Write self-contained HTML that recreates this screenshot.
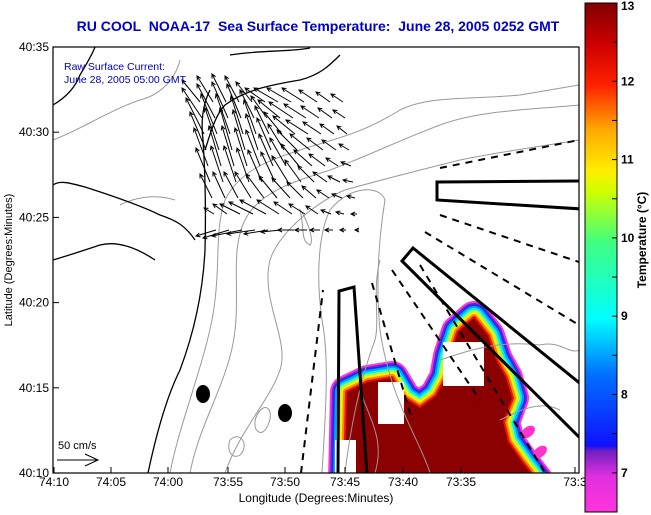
<!DOCTYPE html>
<html><head><meta charset="utf-8"><style>
html,body{margin:0;padding:0;background:#fff;}
svg{display:block;font-family:"Liberation Sans",sans-serif;}
</style></head><body>
<svg width="651" height="515" viewBox="0 0 651 515">
<defs>
<linearGradient id="cb" x1="0" y1="1" x2="0" y2="0">
<stop offset="0" stop-color="#ff33dd"/>
<stop offset="0.07" stop-color="#e030e0"/>
<stop offset="0.12" stop-color="#7020c0"/>
<stop offset="0.13" stop-color="#1010ff"/>
<stop offset="0.27" stop-color="#0070ff"/>
<stop offset="0.38" stop-color="#00ffff"/>
<stop offset="0.53" stop-color="#40ff80"/>
<stop offset="0.63" stop-color="#d0ff00"/>
<stop offset="0.67" stop-color="#ffee00"/>
<stop offset="0.75" stop-color="#ffaa00"/>
<stop offset="0.84" stop-color="#ff2000"/>
<stop offset="0.92" stop-color="#cc0000"/>
<stop offset="1" stop-color="#800000"/>
</linearGradient>
<clipPath id="plot"><rect x="53" y="47" width="526" height="426"/></clipPath>
</defs>
<text x="318" y="31" text-anchor="middle" font-size="14" font-weight="bold" fill="#0000cc" xml:space="preserve">RU COOL  NOAA-17  Sea Surface Temperature:  June 28, 2005 0252 GMT</text>

<g clip-path="url(#plot)">
<g stroke-linejoin="round" id="sst"></g>
<g fill="none" stroke="#999" stroke-width="1">
<path d="M170,473 C180,420 210,350 215,300 C220,260 215,230 225,200 C240,170 270,160 300,150 C330,140 360,135 400,110 C430,95 470,100 520,95 L579,85"/>
<path d="M190,473 C200,420 230,380 235,330 C240,290 230,250 245,220 C260,190 300,180 330,170 C370,155 400,140 440,125 C480,110 530,110 579,105"/>
<path d="M225,473 C240,430 270,400 280,370 C290,340 260,300 270,260 C280,230 320,200 345,190 C380,180 420,170 460,160 C510,150 550,145 579,140"/>
<path d="M322,473 C325,420 330,360 322,320 C315,270 320,230 330,210 C350,185 380,185 385,200 C380,230 375,280 380,330 C390,400 420,440 430,473"/>
<path d="M345,473 C350,430 360,380 375,340 C380,320 372,290 380,260"/>
<path d="M300,210 C305,230 300,240 310,245 C315,240 305,215 300,210 Z"/>
<path d="M440,360 C470,350 500,340 540,345 C560,340 570,355 579,350"/>
<path d="M500,420 C520,410 540,400 560,410"/>
<path d="M53,140 C80,130 110,110 140,100 C160,95 175,80 180,60"/>
<path d="M120,205 C140,195 160,195 175,200"/>
<path d="M257,415 C265,400 275,410 268,425 C262,440 250,430 257,415"/>
<path d="M230,440 C240,430 250,445 240,455 C232,460 226,450 230,440"/>
<path d="M375,473 C385,440 370,420 360,390"/>
</g>
<g fill="none" stroke="#000" stroke-width="1.3">
<path d="M53,105 C65,98 75,88 80,75 C86,65 92,55 95,47"/>
<path d="M53,185 C60,180 70,183 85,187 C110,195 140,205 160,215 C175,220 185,225 195,240"/>
<path d="M148,473 C155,440 165,400 180,370 C195,330 203,290 205,250 C206,210 205,170 203,140 C200,115 205,100 210,90"/>
<path d="M205,150 C210,135 215,115 225,105 C245,90 270,85 300,80 C320,75 330,65 340,55"/>
<path d="M230,55 C260,50 290,52 310,48"/>
<path d="M53,260 C70,255 85,250 100,245 C120,240 140,250 155,260"/>
</g>
<g fill="none" stroke="#000" stroke-width="3">
<polygon points="338,475 339,291 354,287 367,475"/>
<polygon points="402,261 413,248 582,385 582,440"/>
<polygon points="437,182 437,200 582,209 582,181"/>
</g>
<g fill="none" stroke="#000" stroke-width="2" stroke-dasharray="7,6">
<line x1="301" y1="473" x2="323" y2="290"/>
<line x1="372" y1="283" x2="412" y2="420"/>
<line x1="392" y1="270" x2="480" y2="400"/>
<line x1="420" y1="265" x2="545" y2="473"/>
<line x1="425" y1="232" x2="579" y2="325"/>
<line x1="440" y1="215" x2="579" y2="262"/>
<line x1="440" y1="168" x2="579" y2="140"/>
</g>
<g id="arrows" stroke="#000" stroke-width="1" fill="none"></g>
<ellipse cx="203" cy="394" rx="7" ry="9" fill="#000"/>
<ellipse cx="285" cy="413" rx="7" ry="9" fill="#000"/>
</g>

<text x="64" y="70" font-size="10.5" fill="#0000bb">Raw Surface Current:</text>
<text x="64" y="83" font-size="10.5" fill="#0000bb">June 28, 2005 05:00 GMT</text>
<text x="58" y="449" font-size="11" fill="#000">50 cm/s</text>
<g stroke="#000" stroke-width="1" fill="none">
<line x1="57" y1="460" x2="98" y2="460"/><polyline points="85,454 98,460 85,466"/>
</g>

<rect x="53" y="47" width="526" height="426" fill="none" stroke="#000" stroke-width="1.2"/>
<g id="axes" font-size="12" fill="#000"></g>
<text x="316" y="502" text-anchor="middle" font-size="12">Longitude (Degrees:Minutes)</text>
<text transform="translate(12,260) rotate(-90)" text-anchor="middle" font-size="11">Latitude (Degrees:Minutes)</text>

<rect x="585" y="3" width="32" height="509" fill="url(#cb)" stroke="#000" stroke-width="1"/>
<g id="cbticks" font-size="12" font-weight="bold"></g>
<text transform="translate(646,240) rotate(-90)" text-anchor="middle" font-size="12" font-weight="bold">Temperature (°C)</text>
</svg>
<script>
const NS="http://www.w3.org/2000/svg";
const yTicks=["40:35","40:30","40:25","40:20","40:15","40:10"];
const xTicks=["74:10","74:05","74:00","73:55","73:50","73:45","73:40","73:35","73:3"];
const cbTicks=[13,12,11,10,9,8,7];
// arrow grid: vector components (east, north) in cm/s
const arrowRowsU=[
[-18,-16,-14,-14,-16,-20,-24,-24,-22,-18,-14,-12],
[-20,-18,-16,-14,-14,-16,-22,-24,-22,-18,-14,-12],
[-18,-16,-14,-12,-12,-14,-18,-22,-22,-18,-14,-10],
[-16,-14,-12,-12,-12,-14,-16,-20,-20,-16,-14,-10],
[-14,-12,-12,-12,-14,-14,-16,-18,-18,-16,-12,-10],
[-14,-12,-12,-12,-14,-14,-16,-16,-16,-14,-12,-10],
[-12,-12,-14,-16,-18,-18,-18,-16,-14,-12,-10,-8],
[-10,-14,-20,-24,-26,-22,-18,-16,-12,-10,-8,-6],
[-20,-26,-30,-28,-24,-20,-16,-12,-10,-8,-6,-4]];
const arrowRowsV=[
[22,26,28,26,20,14,14,14,14,12,10,8],
[30,34,36,34,28,22,18,16,14,12,10,8],
[36,40,40,38,34,28,22,18,14,12,10,8],
[38,42,42,40,36,32,26,20,16,12,10,6],
[38,40,40,38,36,32,28,22,16,12,8,4],
[34,36,36,34,32,30,26,22,16,10,6,2],
[24,26,26,26,24,22,20,16,12,8,4,2],
[6,10,10,12,14,14,12,10,8,4,2,0],
[-6,-8,-6,-4,-4,-2,0,0,0,0,0,0]];
const gridX0=200,gridY0=82,gridDX=13,gridDY=16,scale=1.0;
const bandColors=["#ff33dd","#7020d0","#1030ff","#00a0ff","#00f0ff","#a0ff40","#ffee00","#ff8800","#ee1100"];
const bandWidths=[34,30,27,24,20,16,12,8,4];
const sstCore=[[347,392],[368,382],[392,378],[404,398],[420,408],[436,396],[446,378],[450,356],[458,332],[474,318],[488,336],[496,360],[506,378],[512,398],[503,422],[508,442],[522,462],[536,480],[345,480]];
const sstHoles=[[[378,382],[404,382],[404,424],[378,424]],[[443,342],[484,342],[484,386],[443,386]],[[335,440],[356,440],[356,480],[335,480]]];
const blobs=[[528,432],[540,452]];

const ax=document.getElementById('axes');
const yPos=i=>47+i*85.2;
yTicks.forEach((t,i)=>{
 const y=yPos(i);
 const l=document.createElementNS(NS,'line');l.setAttribute('x1',53);l.setAttribute('x2',59);l.setAttribute('y1',y);l.setAttribute('y2',y);l.setAttribute('stroke','#000');ax.appendChild(l);
 const tx=document.createElementNS(NS,'text');tx.setAttribute('x',49);tx.setAttribute('y',y+4);tx.setAttribute('text-anchor','end');tx.textContent=t;
 
 
 ax.appendChild(tx);
});
const xLab=[54,111,168,228,285,345,403,461,575];
xTicks.forEach((t,i)=>{
 const x=xLab[i];
 const l=document.createElementNS(NS,'line');l.setAttribute('x1',x);l.setAttribute('x2',x);l.setAttribute('y1',473);l.setAttribute('y2',467);l.setAttribute('stroke','#000');ax.appendChild(l);
 const tx=document.createElementNS(NS,'text');tx.setAttribute('x',x);tx.setAttribute('y',486);tx.setAttribute('text-anchor','middle');tx.textContent=t;
 
 
 ax.appendChild(tx);
});
const cb=document.getElementById('cbticks');
const cbY=v=>3+(13-v)*78.3;
cbTicks.forEach(v=>{
 const y=cbY(v);
 const tx=document.createElementNS(NS,'text');tx.setAttribute('x',621);tx.setAttribute('y',y+(v==13?7:4));tx.textContent=v;
 
 
 cb.appendChild(tx);
 [0,0.5].forEach(o=>{const yy=cbY(v-o);if(yy>512)return;
  const l=document.createElementNS(NS,'line');l.setAttribute('x1',612);l.setAttribute('x2',617);l.setAttribute('y1',yy);l.setAttribute('y2',yy);l.setAttribute('stroke','#000');cb.appendChild(l);});
});
const sst=document.getElementById('sst');
const pts=a=>a.map(p=>p.join(',')).join(' ');
bandColors.forEach((c,i)=>{
 const p=document.createElementNS(NS,'polygon');p.setAttribute('points',pts(sstCore));p.setAttribute('fill',c);p.setAttribute('stroke',c);p.setAttribute('stroke-width',bandWidths[i]);
 
 
 sst.appendChild(p);
});
const core=document.createElementNS(NS,'polygon');core.setAttribute('points',pts(sstCore));core.setAttribute('fill','#8b0000');


sst.appendChild(core);
sstHoles.forEach(h=>{const p=document.createElementNS(NS,'polygon');p.setAttribute('points',pts(h));p.setAttribute('fill','#fff');
 
 
 sst.appendChild(p);});
blobs.forEach(b=>{const e=document.createElementNS(NS,'ellipse');e.setAttribute('cx',b[0]);e.setAttribute('cy',b[1]);e.setAttribute('rx',8);e.setAttribute('ry',5);e.setAttribute('transform',`rotate(-40 ${b[0]} ${b[1]})`);e.setAttribute('fill','#ff33cc');
 
 
 sst.appendChild(e);});
const ag=document.getElementById('arrows');
arrowRowsU.forEach((row,r)=>row.forEach((u,c)=>{
 const v=arrowRowsV[r][c];
 const x=gridX0+c*gridDX+r*2, y=gridY0+r*gridDY+20;
 const x2=x+u*scale, y2=y-v*scale;
 const L=Math.hypot(x2-x,y2-y)||1, ux=(x2-x)/L, uy=(y2-y)/L, h=4;
 const g=document.createElementNS(NS,'path');
 g.setAttribute('d',`M${x},${y}L${x2},${y2}M${x2-h*ux-h*0.5*uy},${y2-h*uy+h*0.5*ux}L${x2},${y2}L${x2-h*ux+h*0.5*uy},${y2-h*uy-h*0.5*ux}`);
 
 
 ag.appendChild(g);
}));
</script>
</body></html>
